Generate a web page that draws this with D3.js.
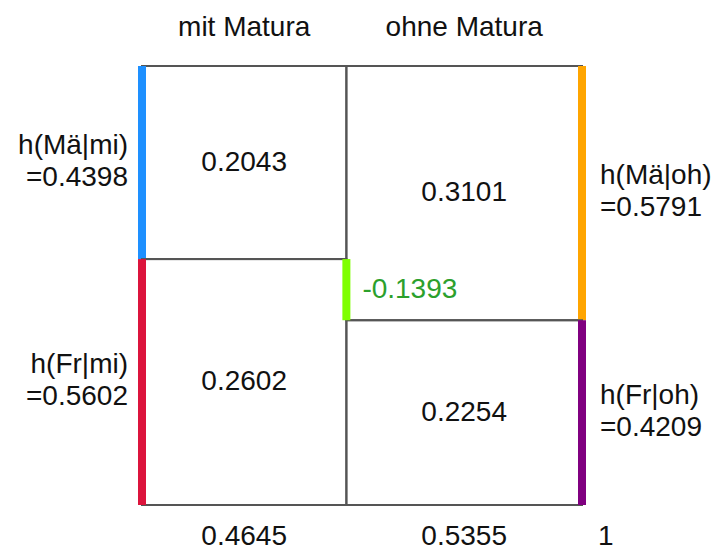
<!DOCTYPE html>
<html>
<head>
<meta charset="utf-8">
<script src="https://cdn.jsdelivr.net/npm/d3@7"></script>
<style>
  body { margin: 0; background: #fff; }
  text { font-family: "Liberation Sans", Arial, sans-serif; font-size: 28px; fill: #111; }
</style>
</head>
<body>
<script>
// columns: mit / ohne Matura and their shares
var cols = ["mit Matura", "ohne Matura"]
var colKeys = ["mi", "oh"]
var colShare = [0.4645, 0.5355]
// rows: Männer / Frauen
var rowKeys = ["Mä", "Fr"]
// conditional shares h(row|col), one list per column
var condShare = [[0.4398, 0.5602], [0.5791, 0.4209]]
// joint shares in each cell, one list per column
var jointValues = [[0.2043, 0.2602], [0.3101, 0.2254]]
var diffValue = -0.1393
var barColors = [["#1e90ff", "#dc143c"], ["#ffa500", "#800080"]]

var W = 713, H = 552
var svg = d3.select("body").append("svg").attr("width", W).attr("height", H)

var x = d3.scaleLinear().domain([0, 1]).range([142, 582])
var y = d3.scaleLinear().domain([0, 1]).range([66, 505])

var colStart = [0, colShare[0]]
// plain hyphen for negatives, like the original
var fmt = function(v) { return d3.format(".4f")(v).replace("\u2212", "-") }

// cells
cols.forEach(function(c, j) {
    var x0 = colStart[j], x1 = colStart[j] + colShare[j]
    var y0 = 0
    rowKeys.forEach(function(r, i) {
        var y1 = y0 + condShare[j][i]
        svg.append("rect")
            .attr("x", x(x0)).attr("y", y(y0))
            .attr("width", x(x1) - x(x0)).attr("height", y(y1) - y(y0))
            .attr("fill", "none").attr("stroke", "#555").attr("stroke-width", 2)
        svg.append("text")
            .attr("x", (x(x0) + x(x1)) / 2).attr("y", (y(y0) + y(y1)) / 2 + 8)
            .attr("text-anchor", "middle")
            .text(fmt(jointValues[j][i]))

        // coloured side bar
        var bx = j == 0 ? x(0) : x(1)
        svg.append("rect")
            .attr("x", bx - 4).attr("y", y(y0))
            .attr("width", 8).attr("height", y(y1) - y(y0))
            .attr("fill", barColors[j][i])

        // side labels
        var cy = (y(y0) + y(y1)) / 2
        var lab = svg.append("text")
            .attr("text-anchor", j == 0 ? "end" : "start")
        var lx = j == 0 ? x(0) - 14 : x(1) + 18
        lab.append("tspan").attr("x", lx).attr("y", cy - 9)
            .text("h(" + r + "|" + colKeys[j] + ")")
        lab.append("tspan").attr("x", lx).attr("y", cy + 23)
            .text("=" + fmt(condShare[j][i]))
        y0 = y1
    })

    // header
    svg.append("text")
        .attr("x", (x(x0) + x(x1)) / 2).attr("y", 36)
        .attr("text-anchor", "middle")
        .text(c)
    // bottom share
    svg.append("text")
        .attr("x", (x(x0) + x(x1)) / 2).attr("y", 545)
        .attr("text-anchor", "middle")
        .text(fmt(colShare[j]))
})

svg.append("text").attr("x", x(1) + 16).attr("y", 545).text("1")

// difference bar between h(Mä|mi) and h(Mä|oh)
var gy0 = y(condShare[0][0]), gy1 = y(condShare[1][0])
svg.append("rect")
    .attr("x", x(colShare[0]) - 4).attr("y", gy0)
    .attr("width", 8).attr("height", gy1 - gy0)
    .attr("fill", "#7fff00")
svg.append("text")
    .attr("x", x(colShare[0]) + 16).attr("y", (gy0 + gy1) / 2 + 8)
    .style("fill", "#2ca02c")
    .text(fmt(diffValue))
</script>
</body>
</html>
